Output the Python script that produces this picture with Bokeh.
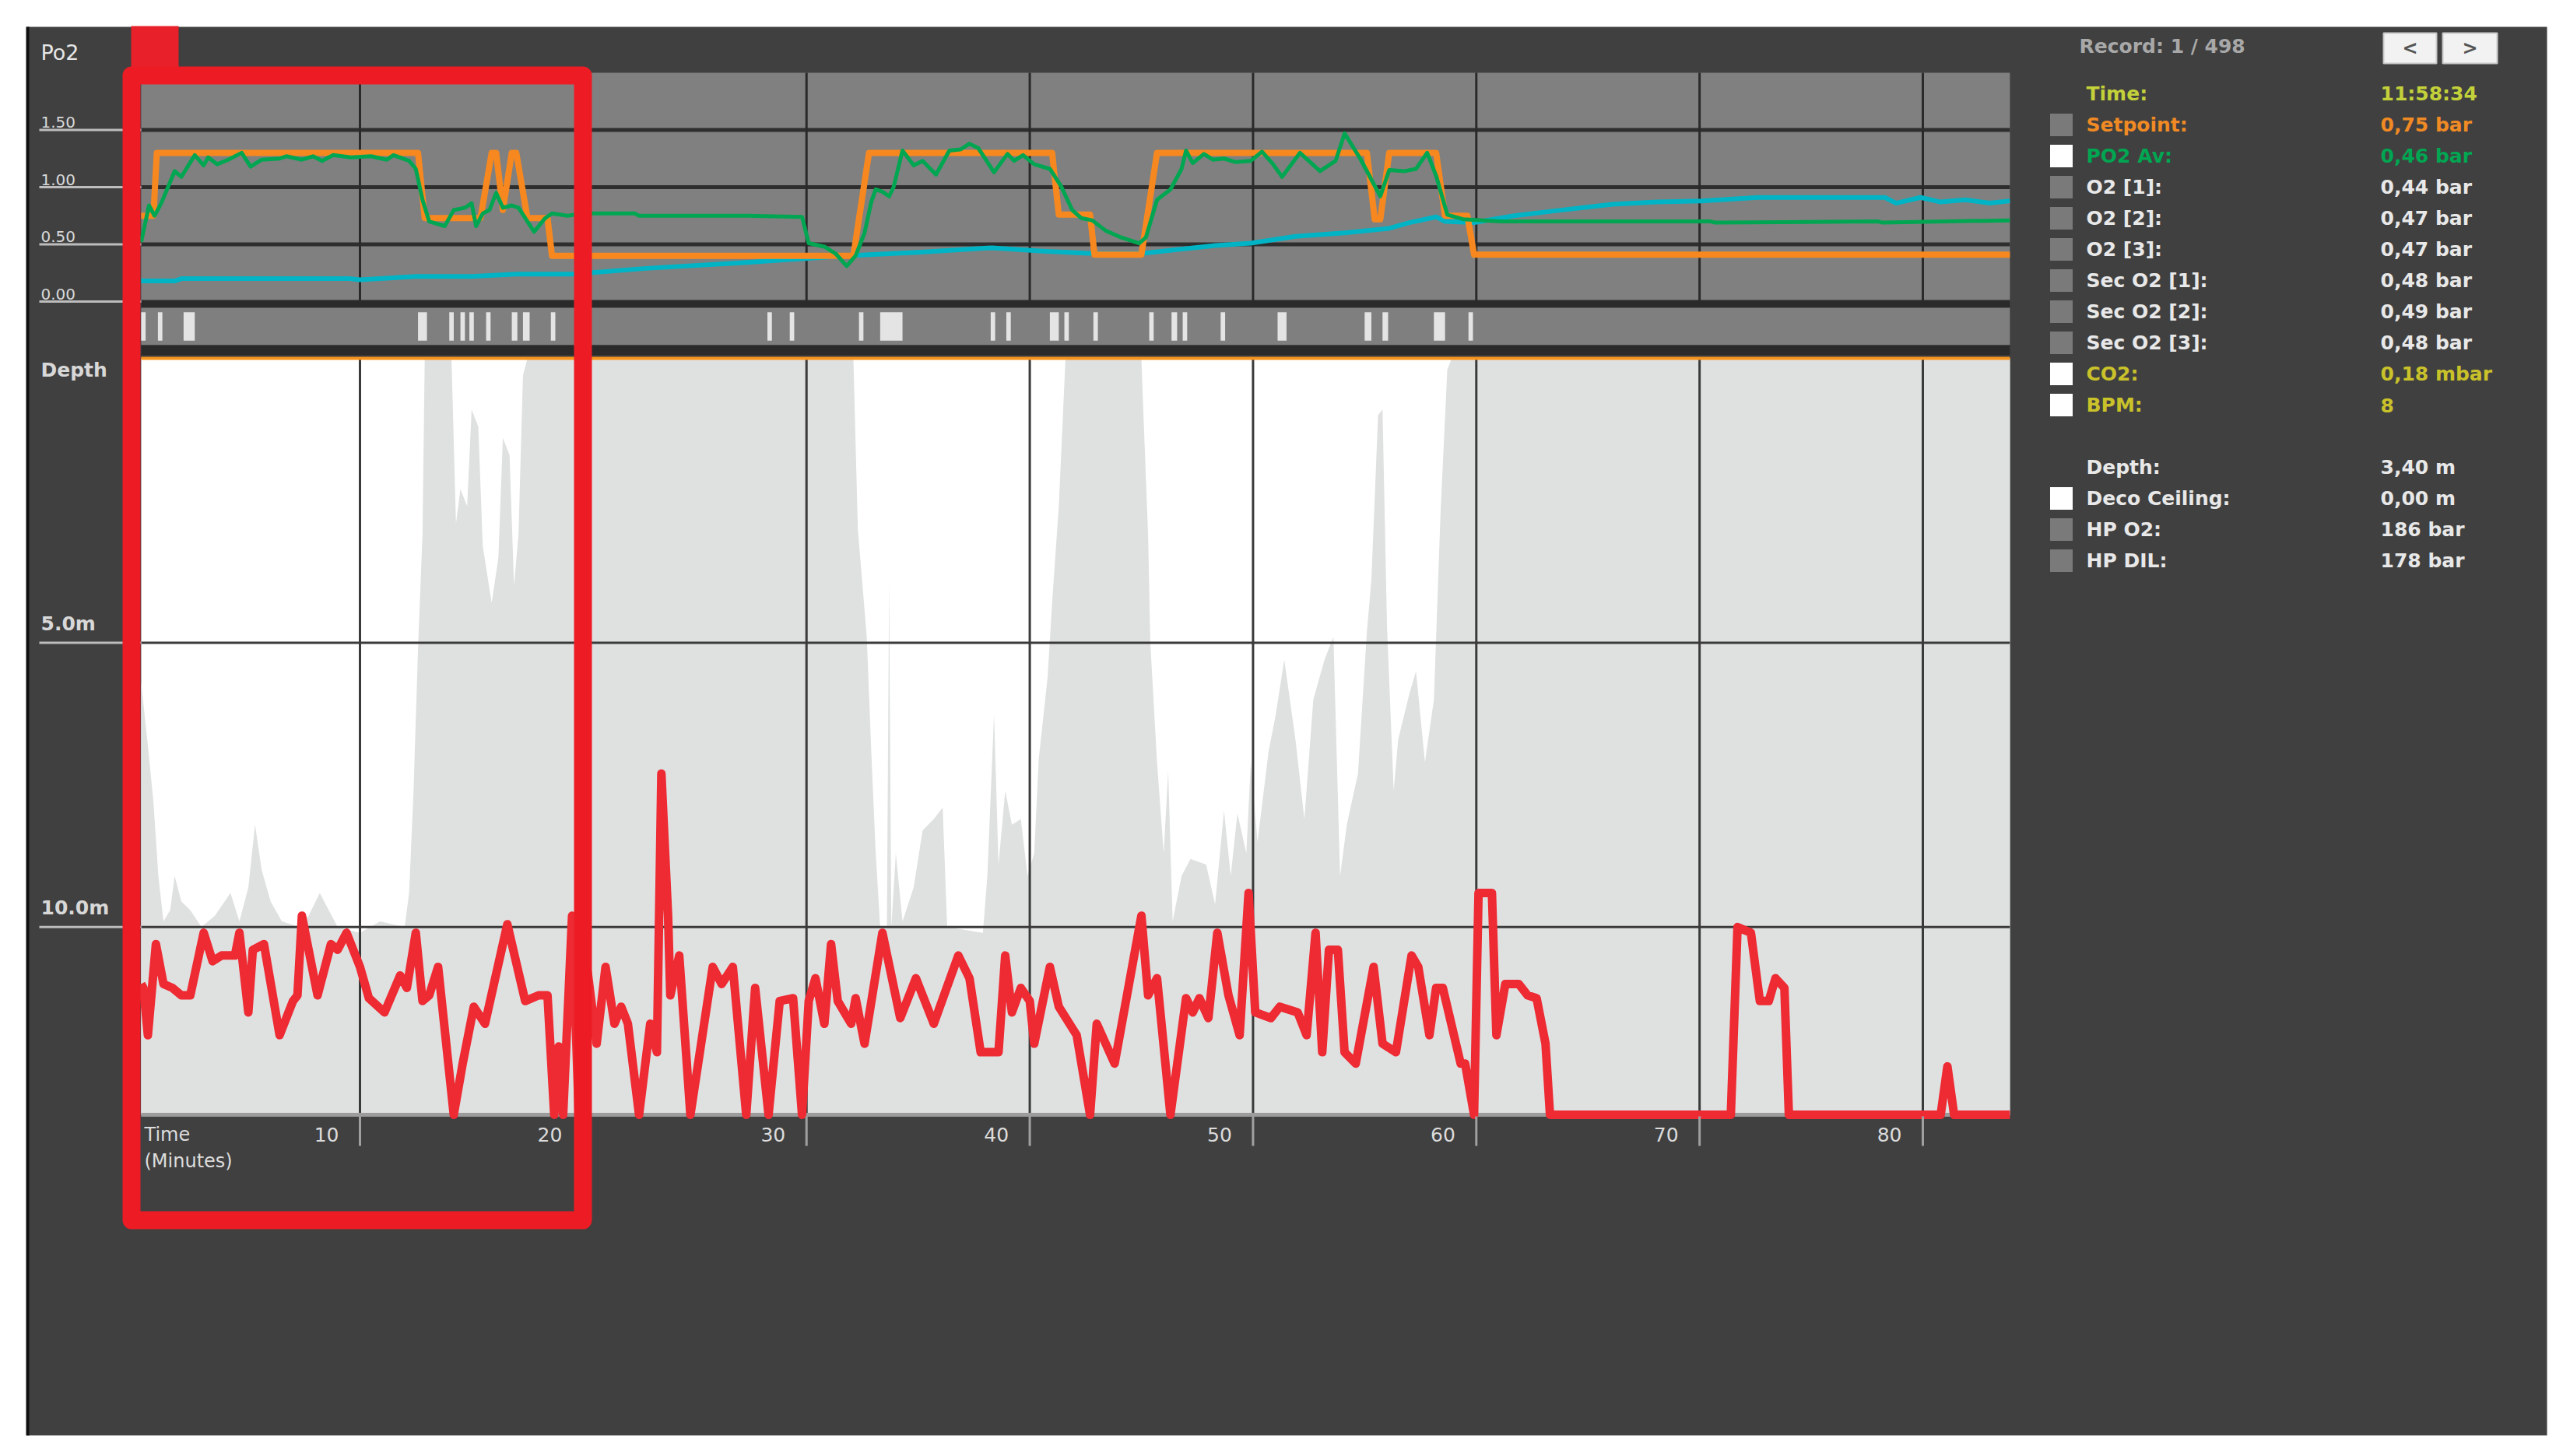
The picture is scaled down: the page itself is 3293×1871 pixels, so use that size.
import numpy as np
from bokeh.plotting import figure
from bokeh.models import Range1d
from bokeh.embed import file_html
from bokeh.resources import INLINE
from bokeh.core.properties import value

# ---------------- data ----------------
setpoint_t = [0.2, 0.75, 0.9, 12.6, 12.9, 15.4, 15.9, 16.1, 16.4, 16.8, 17.0, 17.5, 18.4, 18.6, 32.1, 32.8,
              41.0, 41.3, 42.7, 42.9, 45.0, 45.7, 55.1, 55.45, 55.7, 56.1, 58.2, 58.6, 59.6, 59.9, 83.9]
setpoint_v = [0.75, 0.75, 1.30, 1.30, 0.73, 0.73, 1.30, 1.30, 0.80, 1.30, 1.30, 0.73, 0.73, 0.40, 0.40, 1.30,
              1.30, 0.76, 0.76, 0.41, 0.41, 1.30, 1.30, 0.72, 0.72, 1.30, 1.30, 0.75, 0.75, 0.41, 0.41]

po2av_t = [0.2, 0.55, 0.8, 1.1, 1.7, 2.0, 2.6, 3.0, 3.2, 3.6, 4.1, 4.7, 5.1, 5.6, 6.4, 6.7, 7.4, 7.9, 8.3, 8.8,
           9.6, 10.5, 11.2, 11.5, 12.2, 12.5, 12.8, 13.1, 13.8, 14.2, 14.7, 15.0, 15.2, 15.5, 15.8, 16.1, 16.4,
           16.8, 17.1, 17.8, 18.3, 18.6, 19.3, 20.0, 22.3, 22.5, 27.4, 29.8, 30.1, 30.8, 31.3, 31.8, 32.2, 32.6,
           32.9, 33.1, 33.4, 33.7, 33.9, 34.3, 34.8, 35.2, 35.8, 36.4, 36.9, 37.3, 37.7, 37.9, 38.4, 39.0, 39.3,
           39.7, 40.2, 40.9, 41.4, 41.9, 42.3, 42.8, 43.4, 44.1, 44.9, 45.2, 45.7, 46.3, 46.8, 47.0, 47.3, 47.8,
           48.2, 48.7, 49.2, 49.9, 50.4, 50.9, 51.3, 52.1, 53.0, 53.7, 54.1, 54.8, 55.7, 56.1, 56.8, 57.3, 57.8,
           58.2, 58.7, 59.4, 61.1, 70.5, 70.7, 78.0, 78.2, 83.9]
po2av_v = [0.52, 0.84, 0.75, 0.86, 1.14, 1.09, 1.28, 1.19, 1.26, 1.20, 1.24, 1.30, 1.18, 1.24, 1.25, 1.27, 1.24,
           1.27, 1.23, 1.28, 1.26, 1.27, 1.24, 1.28, 1.23, 1.16, 0.89, 0.70, 0.66, 0.80, 0.82, 0.86, 0.66, 0.77,
           0.80, 0.95, 0.82, 0.84, 0.82, 0.61, 0.73, 0.77, 0.75, 0.77, 0.77, 0.75, 0.75, 0.74, 0.51, 0.48, 0.42,
           0.31, 0.40, 0.60, 0.87, 0.98, 0.96, 0.92, 1.00, 1.32, 1.19, 1.23, 1.11, 1.32, 1.33, 1.38, 1.34, 1.28,
           1.13, 1.29, 1.23, 1.28, 1.20, 1.16, 1.01, 0.80, 0.73, 0.71, 0.62, 0.56, 0.51, 0.56, 0.89, 0.98, 1.16,
           1.32, 1.21, 1.29, 1.24, 1.25, 1.22, 1.23, 1.31, 1.20, 1.09, 1.30, 1.14, 1.23, 1.47, 1.25, 0.92, 1.15,
           1.14, 1.16, 1.30, 1.10, 0.76, 0.72, 0.70, 0.70, 0.69, 0.70, 0.69, 0.71, 0.71]

co2_t = [0.2, 1.7, 2.0, 9.5, 10.0, 12.5, 15.0, 17.0, 19.6, 22.8, 27.2, 31.7, 35.0, 38.3, 40.6, 42.8, 45.0,
         48.3, 49.9, 51.9, 54.1, 56.1, 57.0, 58.2, 58.6, 59.9, 61.7, 63.4, 66.1, 68.1, 70.1, 72.6, 78.3, 78.8,
         79.9, 80.8, 81.9, 83.0, 83.9]
co2_v = [0.18, 0.18, 0.20, 0.20, 0.19, 0.22, 0.22, 0.24, 0.24, 0.29, 0.34, 0.40, 0.43, 0.47, 0.44, 0.42, 0.42,
         0.49, 0.51, 0.57, 0.60, 0.64, 0.69, 0.74, 0.70, 0.69, 0.75, 0.79, 0.85, 0.87, 0.88, 0.91, 0.91, 0.86,
         0.91, 0.87, 0.89, 0.86, 0.88]

event_start = [0.2, 0.95, 2.1, 12.6, 14.0, 14.5, 14.9, 15.65, 16.8, 17.3, 18.55, 28.25, 29.25, 32.35, 33.3,
               38.25, 38.95, 40.9, 41.55, 42.85, 45.35, 46.35, 46.85, 48.55, 51.1, 55.0, 55.8, 58.1, 59.65]
event_end = [0.4, 1.15, 2.6, 13.0, 14.2, 14.7, 15.1, 15.85, 17.05, 17.6, 18.75, 28.45, 29.45, 32.55, 34.3,
             38.45, 39.15, 41.3, 41.75, 43.05, 45.55, 46.6, 47.05, 48.75, 51.5, 55.3, 56.05, 58.6, 59.85]

depth_t = [0.2, 0.3, 0.5, 0.86, 1.2, 1.6, 2.0, 2.4, 3.0, 3.4, 3.8, 4.4, 4.6, 5.0, 5.2, 5.7, 6.4, 7.0, 7.2, 7.4,
           7.7, 8.1, 8.7, 9.0, 9.4, 10.0, 10.4, 11.1, 11.8, 12.1, 12.5, 12.8, 13.1, 13.5, 14.2, 14.6, 15.1, 15.6,
           16.6, 17.4, 18.0, 18.4, 18.7, 18.9, 19.1, 19.5, 19.8, 20.2, 20.6, 21.0, 21.4, 21.7, 22.0, 22.5, 23.0,
           23.3, 23.5, 23.8, 23.9, 24.3, 24.8, 25.3, 25.8, 26.2, 26.7, 27.3, 27.7, 28.3, 28.8, 29.4, 29.8, 30.1,
           30.4, 30.8, 31.1, 31.4, 32.0, 32.2, 32.6, 33.4, 34.2, 34.9, 35.7, 36.8, 37.3, 37.8, 38.6, 38.9, 39.2,
           39.6, 40.0, 40.2, 40.9, 41.3, 42.1, 42.7, 43.0, 43.8, 45.0, 45.3, 45.7, 46.3, 47.0, 47.3, 47.6, 48.0,
           48.4, 48.9, 49.4, 49.8, 50.1, 50.8, 51.2, 52.0, 52.4, 52.8, 53.1, 53.4, 53.8, 54.1, 54.6, 55.4, 55.8,
           56.4, 57.1, 57.4, 57.9, 58.2, 58.5, 59.3, 59.5, 59.9, 60.1, 60.7, 60.9, 61.3, 61.9, 62.3, 62.7, 63.1,
           63.3, 71.4, 71.7, 72.3, 72.7, 73.1, 73.4, 73.8, 74.0, 80.8, 81.1, 81.4, 83.9]
depth_m = [11.0, 11.07, 11.9, 10.3, 11.0, 11.07, 11.2, 11.2, 10.1, 10.6, 10.5, 10.5, 10.1, 11.5, 10.4, 10.3,
           11.9, 11.3, 11.2, 9.8, 10.4, 11.2, 10.3, 10.4, 10.1, 10.7, 11.25, 11.5, 10.85, 11.07, 10.1, 11.3, 11.2,
           10.7, 13.3, 12.4, 11.4, 11.7, 9.95, 11.3, 11.2, 11.2, 13.3, 12.1, 13.3, 9.8, 13.3, 10.8, 12.05, 10.7,
           11.7, 11.4, 11.7, 13.3, 11.7, 12.2, 7.3, 9.8, 11.2, 10.5, 13.3, 12.0, 10.7, 11.0, 10.7, 13.3, 11.07,
           13.3, 11.3, 11.25, 13.3, 11.3, 10.9, 11.7, 10.3, 11.3, 11.7, 11.25, 12.05, 10.1, 11.6, 10.9, 11.7,
           10.5, 10.9, 12.2, 12.2, 10.5, 11.5, 11.07, 11.3, 12.05, 10.7, 11.4, 11.9, 13.3, 11.7, 12.4, 9.8, 11.2,
           10.9, 13.3, 11.25, 11.5, 11.25, 11.6, 10.1, 11.2, 11.9, 9.4, 11.5, 11.6, 11.4, 11.5, 11.9, 10.1, 12.2,
           10.4, 10.4, 12.2, 12.4, 10.7, 12.05, 12.2, 10.5, 10.7, 11.9, 11.07, 11.07, 12.4, 12.4, 13.3, 9.4, 9.4,
           11.9, 11.0, 11.0, 11.2, 11.25, 12.05, 13.3, 13.3, 10.0, 10.1, 11.3, 11.3, 10.9, 11.07, 13.3, 13.3,
           12.45, 13.3, 13.3]

shade_t = [0.2, 0.5, 0.75, 0.97, 1.2, 1.5, 1.7, 2.0, 2.4, 2.9, 3.5, 4.2, 4.6, 5.0, 5.3, 5.6, 6.0, 6.5, 7.3,
           7.7, 8.2, 8.6, 9.0, 10.0, 10.9, 12.0, 12.2, 12.4, 12.6, 12.8, 12.9, 14.1, 14.3, 14.5, 14.8, 15.0,
           15.3, 15.5, 15.9, 16.2, 16.4, 16.7, 16.9, 17.1, 17.3, 17.5, 32.1, 32.3, 32.7, 32.9, 33.1, 33.3, 33.6,
           33.7, 33.8, 34.0, 34.3, 34.8, 35.2, 35.7, 36.1, 36.3, 37.9, 38.1, 38.4, 38.6, 38.9, 39.2, 39.6, 39.9,
           40.2, 40.4, 40.8, 41.0, 41.3, 41.6, 45.0, 45.1, 45.3, 45.4, 45.7, 46.0, 46.2, 46.4, 46.8, 47.2, 47.9,
           48.3, 48.7, 49.0, 49.3, 49.7, 49.9, 50.2, 50.7, 51.0, 51.4, 51.9, 52.3, 52.7, 53.2, 53.6, 53.9, 54.2,
           54.7, 55.1, 55.3, 55.6, 55.8, 56.0, 56.3, 56.5, 57.0, 57.3, 57.7, 58.1, 58.4, 58.7, 58.9, 83.9]
shade_d = [5.7, 6.8, 7.8, 9.1, 9.9, 9.7, 9.1, 9.55, 9.7, 10.0, 9.8, 9.4, 9.9, 9.3, 8.2, 9.0, 9.55, 9.9, 10.0,
           9.8, 9.4, 9.7, 10.0, 10.1, 9.9, 10.0, 9.4, 7.6, 5.1, 3.1, 0.0, 0.0, 2.9, 2.3, 2.6, 0.9, 1.2, 3.3, 4.3,
           3.5, 1.4, 1.7, 4.0, 3.1, 0.3, 0.0, 0.0, 3.0, 4.9, 6.9, 8.7, 10.0, 10.0, 3.9, 10.0, 8.7, 9.9, 9.3, 8.3,
           8.1, 7.9, 10.0, 10.1, 9.1, 6.25, 8.9, 7.6, 8.2, 8.1, 9.1, 8.7, 7.05, 5.6, 4.3, 2.6, 0.0, 0.0, 1.07,
           3.1, 5.0, 7.1, 8.7, 7.25, 9.9, 9.1, 8.8, 8.9, 9.6, 7.95, 9.1, 8.0, 8.7, 7.1, 8.5, 6.9, 6.3, 5.3, 6.7,
           8.1, 6.0, 5.3, 4.9, 9.1, 8.2, 7.3, 4.8, 3.9, 1.0, 0.9, 4.7, 7.6, 6.7, 5.9, 5.5, 7.1, 6.0, 2.7, 0.2,
           0.0, 0.0]

po2_ticks = [0.0, 0.5, 1.0, 1.5]
po2_tick_labels = ["0.00", "0.50", "1.00", "1.50"]
depth_ticks = [5.0, 10.0]
depth_tick_labels = ["5.0m", "10.0m"]
time_ticks = [10, 20, 30, 40, 50, 60, 70, 80]
time_tick_labels = ["10", "20", "30", "40", "50", "60", "70", "80"]

info_labels = ["Time:", "Setpoint:", "PO2 Av:", "O2 [1]:", "O2 [2]:", "O2 [3]:", "Sec O2 [1]:",
               "Sec O2 [2]:", "Sec O2 [3]:", "CO2:", "BPM:", "Depth:", "Deco Ceiling:", "HP O2:", "HP DIL:"]
info_values = ["11:58:34", "0,75 bar", "0,46 bar", "0,44 bar", "0,47 bar", "0,47 bar", "0,48 bar",
               "0,49 bar", "0,48 bar", "0,18 mbar", "8", "3,40 m", "0,00 m", "186 bar", "178 bar"]
record_text = "Record: 1 / 498"

# ---------------- styling / layout ----------------
T_MIN, T_MAX = 0.2, 83.9
PO2_MAX = 2.0
DEPTH_MAX = 13.3

W, H = 3277, 1855
X0, Y0 = 0, 0
FONT = value("DejaVu Sans")

def lin_range(va, pa, vb, pb, p_start, p_end):
    k = (vb - va) / (pb - pa)
    return Range1d(start=va + k * (p_start - pa), end=va + k * (p_end - pa))

p = figure(width=W, height=H, output_backend="svg", toolbar_location=None,
           x_range=Range1d(X0, X0 + W), y_range=Range1d(Y0 + H, Y0),
           x_axis_type=None, y_axis_type=None, min_border=0)
p.outline_line_color = None
p.background_fill_color = "white"
p.border_fill_color = "white"

p.extra_x_ranges = {"time": lin_range(10, 462.0, 80, 2470.0, X0, X0 + W)}
p.extra_y_ranges = {
    "po2": lin_range(0.0, 387.0, PO2_MAX, 93.0, Y0 + H, Y0),
    "ev": lin_range(0.0, 443.0, 1.0, 395.0, Y0 + H, Y0),
    "depth": lin_range(0.0, 460.0, DEPTH_MAX, 1432.0, Y0 + H, Y0),
}

DARK = "#404040"
# outer dark frame
p.quad(left=34, right=3272, top=34, bottom=1844, fill_color=DARK, line_color=None)
p.quad(left=33, right=37, top=34, bottom=1844, fill_color="#101010", line_color=None)

# ---- PO2 panel ----
p.quad(left=T_MIN, right=T_MAX, bottom=0, top=PO2_MAX, fill_color="#808080", line_color=None,
       x_range_name="time", y_range_name="po2")
p.segment(x0=[T_MIN] * 3, x1=[T_MAX] * 3, y0=po2_ticks[1:], y1=po2_ticks[1:], line_color="#2e2e2e",
          line_width=5, x_range_name="time", y_range_name="po2")
p.segment(x0=time_ticks, x1=time_ticks, y0=0, y1=PO2_MAX, line_color="#2a2a2a", line_width=3,
          x_range_name="time", y_range_name="po2")
p.quad(left=T_MIN, right=T_MAX, top=385, bottom=395, fill_color="#2a2a2a", line_color=None,
       x_range_name="time")
# tick labels + underline
p.segment(x0=50, x1=181, y0=po2_ticks, y1=po2_ticks, line_color="#bdbdbd", line_width=3, y_range_name="po2")
p.text(x=52, y=po2_ticks, text=po2_tick_labels, text_font=FONT, text_font_size="20px",
       text_color="#d8d8d8", text_baseline="bottom", y_offset=-3, y_range_name="po2")
p.text(x=[52], y=[67], text=["Po2"], text_font=FONT, text_font_size="27px", text_color="#e6e6e6",
       text_baseline="middle")

# series lines
p.line(co2_t, co2_v, line_color="#00b4c5", line_width=6, line_join="round",
       x_range_name="time", y_range_name="po2")
p.line(setpoint_t, setpoint_v, line_color="#f7881f", line_width=8, line_join="round",
       x_range_name="time", y_range_name="po2")
p.line(po2av_t, po2av_v, line_color="#00a651", line_width=5, line_join="round",
       x_range_name="time", y_range_name="po2")

# ---- event strip ----
p.quad(left=T_MIN, right=T_MAX, bottom=0, top=1, fill_color="#7f7f7f", line_color=None,
       x_range_name="time", y_range_name="ev")
p.quad(left=event_start, right=event_end, bottom=0.12, top=0.88, fill_color="#e4e4e4", line_color=None,
       x_range_name="time", y_range_name="ev")
p.quad(left=T_MIN, right=T_MAX, top=443, bottom=456, fill_color="#2a2a2a", line_color=None,
       x_range_name="time")

# ---- depth panel ----
p.quad(left=T_MIN, right=T_MAX, bottom=DEPTH_MAX, top=0, fill_color="white", line_color=None,
       x_range_name="time", y_range_name="depth")
p.varea(x=shade_t, y1=shade_d, y2=DEPTH_MAX, fill_color="#dfe1e1",
        x_range_name="time", y_range_name="depth")
p.segment(x0=T_MIN, x1=T_MAX, y0=depth_ticks, y1=depth_ticks, line_color="#3a3a3a", line_width=3,
          x_range_name="time", y_range_name="depth")
p.segment(x0=time_ticks, x1=time_ticks, y0=0, y1=DEPTH_MAX, line_color="#3a3a3a", line_width=3,
          x_range_name="time", y_range_name="depth")
p.segment(x0=T_MIN, x1=T_MAX, y0=0, y1=0, line_color="#f7941d", line_width=4,
          x_range_name="time", y_range_name="depth")
p.segment(x0=T_MIN, x1=T_MAX, y0=DEPTH_MAX, y1=DEPTH_MAX, line_color="#9c9c9c", line_width=5,
          x_range_name="time", y_range_name="depth")
p.segment(x0=50, x1=181, y0=depth_ticks, y1=depth_ticks, line_color="#bdbdbd", line_width=3,
          y_range_name="depth")
p.text(x=52, y=depth_ticks, text=depth_tick_labels, text_font=FONT, text_font_size="25px",
       text_font_style="bold", text_color="#d8d8d8", text_baseline="bottom", y_offset=-10,
       y_range_name="depth")
p.text(x=[52], y=[475], text=["Depth"], text_font=FONT, text_font_size="25px", text_font_style="bold",
       text_color="#d8d8d8", text_baseline="middle")
p.line(depth_t, depth_m, line_color="#ee2a33", line_width=11, line_join="round",
       x_range_name="time", y_range_name="depth")

# x ticks + labels
p.segment(x0=time_ticks, x1=time_ticks, y0=1434, y1=1472, line_color="#a0a0a0", line_width=3,
          x_range_name="time")
p.text(x=time_ticks, y=1457, text=time_tick_labels, text_font=FONT, text_font_size="25px",
       text_color="#dcdcdc", text_align="right", text_baseline="middle", x_offset=-27,
       x_range_name="time")
p.text(x=[185, 185], y=[1457, 1491], text=["Time", "(Minutes)"], text_font=FONT, text_font_size="24px",
       text_color="#dcdcdc", text_baseline="middle")

# ---- info panel ----
slots = [0, 1, 2, 3, 4, 5, 6, 7, 8, 9, 10, 12, 13, 14, 15]
row_y = [120 + 40 * s for s in slots]
label_colors = ["#c3d13a", "#f08a24", "#00a651"] + ["#e8e8e8"] * 6 + ["#c9c22a", "#c9c22a"] + ["#e8e8e8"] * 4
swatch = [None, "#7a7a7a", "#ffffff", "#7a7a7a", "#7a7a7a", "#7a7a7a", "#7a7a7a", "#7a7a7a", "#7a7a7a",
          "#ffffff", "#ffffff", None, "#ffffff", "#7a7a7a", "#7a7a7a"]
sw_y = [y for y, c in zip(row_y, swatch) if c]
sw_c = [c for c in swatch if c]
p.rect(x=2648, y=sw_y, width=29, height=29, fill_color=sw_c, line_color=None)
p.text(x=2680, y=row_y, text=info_labels, text_font=FONT, text_font_size="25px", text_font_style="bold",
       text_color=label_colors, text_baseline="middle")
p.text(x=3058, y=row_y, text=info_values, text_font=FONT, text_font_size="25px", text_font_style="bold",
       text_color=label_colors, text_baseline="middle")
p.text(x=[2671], y=[59], text=[record_text], text_font=FONT, text_font_size="25px",
       text_font_style="bold", text_color="#a8a8a8", text_baseline="middle")
p.quad(left=[3062, 3138], right=[3130, 3208], top=42, bottom=81, fill_color="#f2f2f2", line_color="#c8c8c8",
       line_width=2)
p.text(x=[3096, 3173], y=[61, 61], text=["<", ">"], text_font=FONT, text_font_size="24px",
       text_font_style="bold", text_color="#555555", text_align="center", text_baseline="middle")

# ---- red annotation box ----
p.quad(left=168, right=229, top=33, bottom=90, fill_color="#e8202a", line_color=None)
p.quad(left=168.5, right=748.5, top=96.5, bottom=1567.5, fill_color=None, line_color="#ed1c24",
       line_width=23, line_join="round")

open("out.html", "w").write(file_html(p, INLINE))
